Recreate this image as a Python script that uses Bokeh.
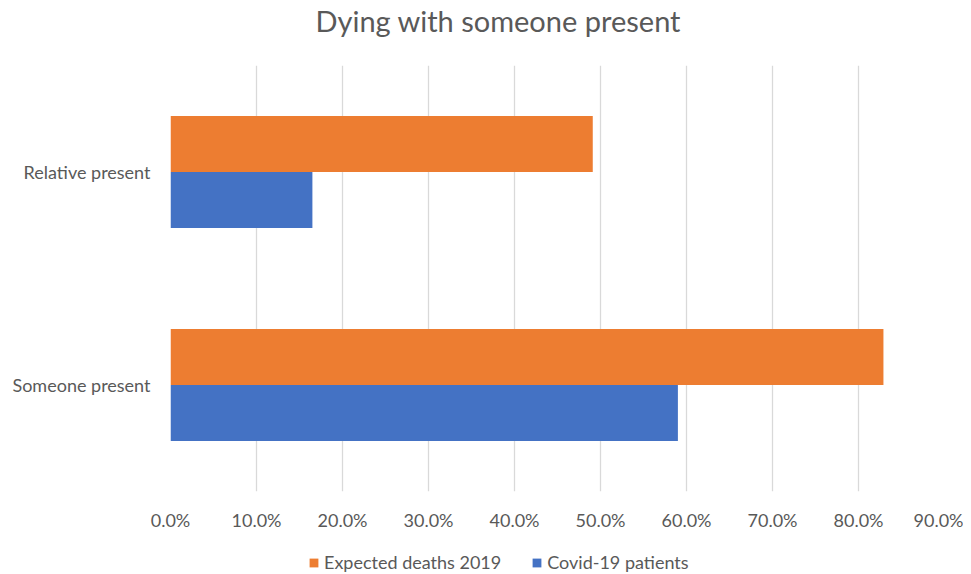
from bokeh.plotting import figure
from bokeh.layouts import column
from bokeh.models import (FactorRange, Range1d, FixedTicker, PrintfTickFormatter,
                          Legend, LegendItem, ColumnDataSource, Title)
from bokeh.transform import dodge
from bokeh.embed import file_html
from bokeh.resources import INLINE

title_text = "Dying with someone present"
categories = ["Someone present", "Relative present"]
expected_2019 = [82.9, 49.1]
covid_patients = [59.0, 16.5]
x_ticks = [0, 10, 20, 30, 40, 50, 60, 70, 80, 90]
series_names = ["Expected deaths 2019", "Covid-19 patients"]
series_colors = ["#ED7D31", "#4472C4"]

src = ColumnDataSource(dict(cat=categories, exp=expected_2019, cov=covid_patients))

FONT = "Lato"
GREY = "#595959"

p = figure(width=963, height=535, output_backend="svg", toolbar_location=None,
           y_range=FactorRange(factors=categories), x_range=Range1d(0, 90),
           min_border_left=170, min_border_right=19, min_border_top=65,
           min_border_bottom=44, title=title_text)
p.outline_line_color = None

bh = 0.263
r1 = p.hbar(y=dodge("cat", bh / 2, range=p.y_range), right="exp", left=0, height=bh,
            source=src, fill_color=series_colors[0], line_color=None)
r2 = p.hbar(y=dodge("cat", -bh / 2, range=p.y_range), right="cov", left=0, height=bh,
            source=src, fill_color=series_colors[1], line_color=None)

p.xaxis.ticker = FixedTicker(ticks=x_ticks)
p.xaxis.formatter = PrintfTickFormatter(format="%.1f%%")
for ax in (p.xaxis[0], p.yaxis[0]):
    ax.axis_line_color = None
    ax.major_tick_line_color = None
    ax.minor_tick_line_color = None
    ax.major_tick_out = 0
    ax.major_tick_in = 0
    ax.minor_tick_out = 0
    ax.major_label_text_font = FONT
    ax.major_label_text_font_size = "18px"
    ax.major_label_text_color = GREY
p.xaxis.major_label_standoff = 17
p.yaxis.major_label_standoff = 20

p.xgrid.ticker = FixedTicker(ticks=x_ticks)
p.xgrid.grid_line_color = "#d9d9d9"
p.xgrid.grid_line_width = 1.3
p.ygrid.grid_line_color = None

# real title (outermost) and a thin spacer next to the frame
p.title.align = "left"
p.title.offset = 145
p.title.standoff = 0
p.title.text_font = FONT
p.title.text_font_size = "29px"
p.title.text_color = GREY
p.title.text_font_style = "normal"
spacer = Title(text=" ", text_font_size="1px", standoff=25)
p.add_layout(spacer, "above")

# legend strip below the chart
lg = figure(width=963, height=39, output_backend="svg", toolbar_location=None,
            x_range=Range1d(0, 1), y_range=Range1d(0, 1),
            min_border_left=0, min_border_right=0, min_border_top=0,
            min_border_bottom=0)
lg.axis.visible = False
lg.grid.visible = False
lg.outline_line_color = None
items = []
for name, col in zip(series_names, series_colors):
    rr = lg.rect(x=[0.5], y=[0.5], width=0, height=0, fill_color=col, line_color=None)
    items.append(LegendItem(label=name, renderers=[rr]))
legend = Legend(items=items, orientation="horizontal", location=(138, 1),
                label_text_font=FONT, label_text_font_size="18px",
                label_text_color=GREY, glyph_width=11, glyph_height=11,
                spacing=30, border_line_color=None, background_fill_alpha=0,
                padding=0, margin=0, label_standoff=5)
lg.add_layout(legend)

layout = column(p, lg, spacing=0)
open("out.html", "w").write(file_html(layout, INLINE))
